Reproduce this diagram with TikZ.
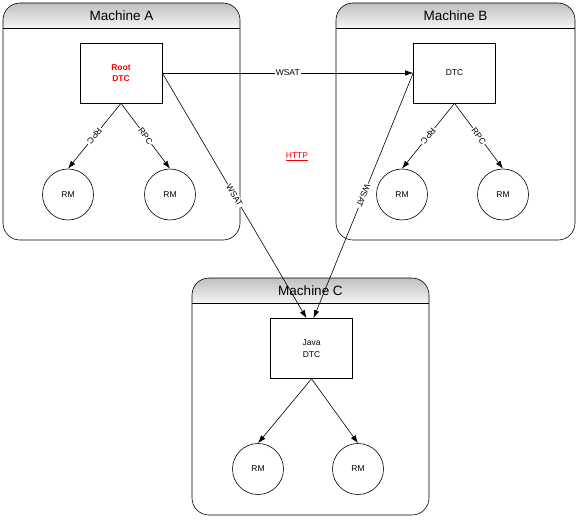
\documentclass[tikz,border=0pt]{standalone}
\usepackage{fontspec}
\setmainfont{Liberation Sans}
\usetikzlibrary{positioning, arrows.meta}

\begin{document}
\begin{tikzpicture}[x=1pt, y=-1pt, line width=0.6pt,
        every node/.style={font=\fontsize{8.5}{11.5}\selectfont},
        dtc/.style={rectangle, draw, minimum width=82pt, minimum height=60pt, inner sep=0pt, align=center},
        rm/.style={circle, draw, minimum size=51pt, inner sep=0pt},
        link/.style={-{Latex[length=8pt, width=5.5pt]}},
        tag/.style={fill=white, inner sep=1pt, sloped, allow upside down},
        header/.style={top color=black!25, bottom color=black!4, draw=none},
        title/.style={font=\fontsize{13.5}{15}\selectfont}]
        \useasboundingbox (0,0) rectangle (577,519);

        % machines
        \foreach \l/\t/\r/\b in {3/3/240/240, 336/3/575/240, 192/278/429/515} {
            \begin{scope}
                \clip[rounded corners=17pt] (\l,\t) rectangle (\r,\b);
                \shade[header] (\l,\t) rectangle (\r,\t+25);
            \end{scope}
            \draw[rounded corners=17pt] (\l,\t) rectangle (\r,\b);
            \draw (\l,\t+25) -- (\r,\t+25);
        }
        \node[title] (titleA) at (121.5,15.5) {Machine A};
        \node[title] (titleB) at (455.5,15.5) {Machine B};
        \node[title] (titleC) at (310.5,290.5) {Machine C};

        \node[dtc, text=red, font=\fontsize{8.5}{11.5}\selectfont\bfseries] (root) at (121,73) {Root\\DTC};
        \node[rm] (rmA1) at (68,194.5) {RM};
        \node[rm] (rmA2) at (170,194.5) {RM};

        \node[dtc] (dtcB) at (454.5,73) {DTC};
        \node[rm] (rmB1) at (402,194.5) {RM};
        \node[rm] (rmB2) at (503,194.5) {RM};

        \node[dtc] (java) at (311.5,348.5) {Java\\DTC};
        \node[rm] (rmC1) at (258,469) {RM};
        \node[rm] (rmC2) at (358,469) {RM};

        \node[text=red] (http) at (297,157) {\underline{HTTP}};

        \draw[link] (root.south) to node[tag] {RPC} (rmA1.north);
        \draw[link] (root.south) to node[tag] {RPC} (rmA2.north);
        \draw[link] (dtcB.south) to node[tag] {RPC} (rmB1.north);
        \draw[link] (dtcB.south) to node[tag] {RPC} (rmB2.north);
        \draw[link] (java.south) to (rmC1.north);
        \draw[link] (java.south) to (rmC2.north);

        \draw[link] (root.east) to node[tag] {WSAT} (dtcB.west);
        \draw[link] (root.east) to node[tag] {WSAT} ([xshift=-5pt]java.north);
        \draw[link] (dtcB.west) to node[tag] {WSAT} ([xshift=2pt]java.north);
\end{tikzpicture}
\end{document}
